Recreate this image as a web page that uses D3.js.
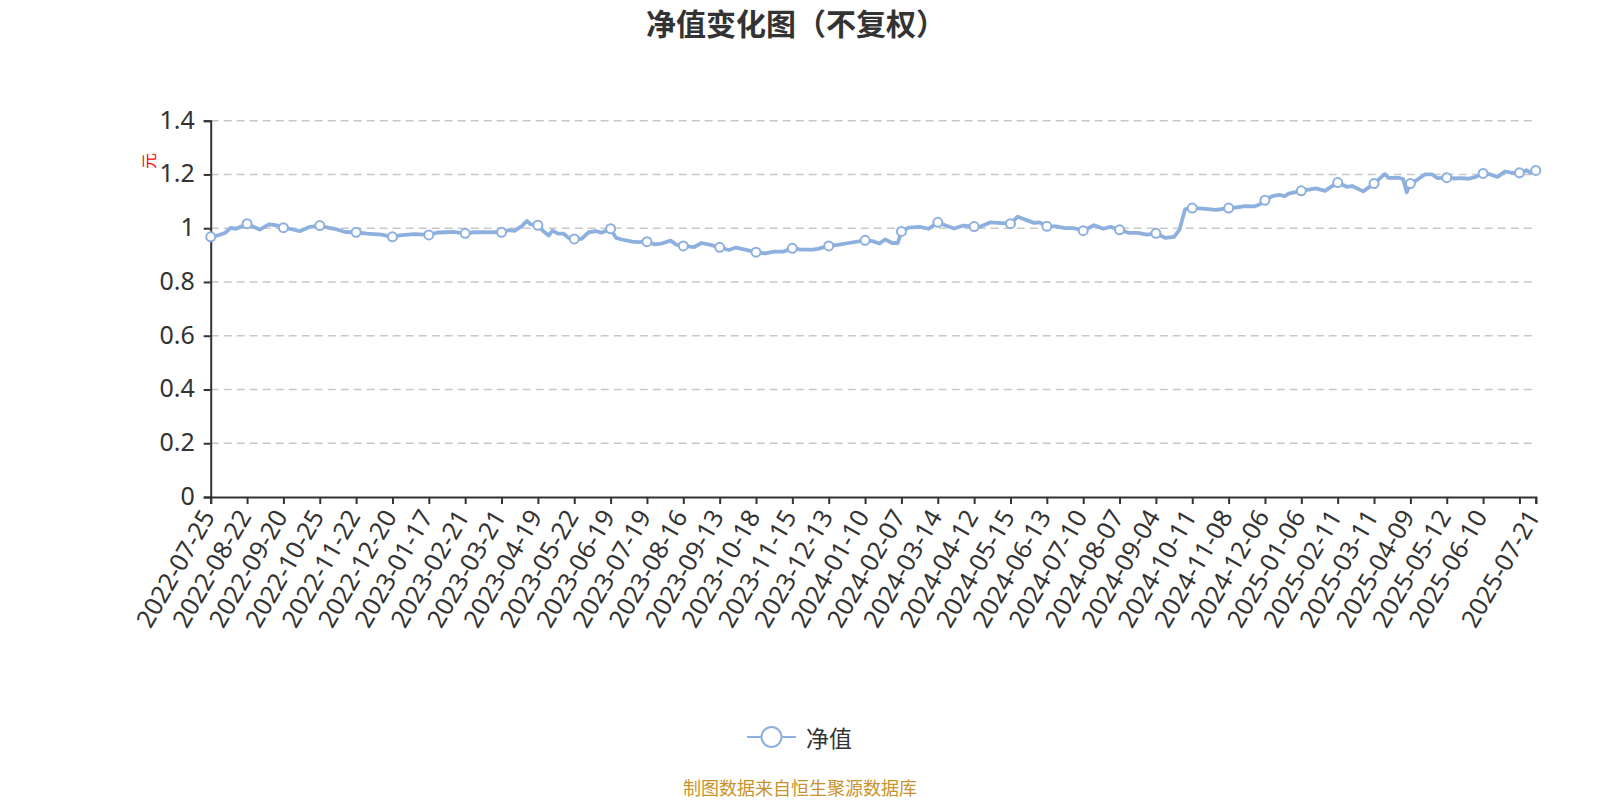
<!DOCTYPE html>
<html>
<head>
<meta charset="utf-8">
<script src="https://cdn.jsdelivr.net/npm/d3@7"></script>
<style>
  html, body { margin: 0; padding: 0; background: #fff; }
  svg { display: block; font-family: "Noto Sans", "Open Sans", "Noto Sans CJK SC", sans-serif; }
</style>
</head>
<body>
<svg id="chart" width="1600" height="800"></svg>
<script>
// ---- data ----
const title = "净值变化图（不复权）";
const seriesName = "净值";
const unitLabel = "元";
const footnote = "制图数据来自恒生聚源数据库";

// category index (trading day) of each axis tick, and its label
const tickIndex = [0,20,40,60,80,100,120,140,160,180,200,220,240,260,280,300,320,340,360,380,400,420,440,460,480,500,520,540,560,580,600,620,640,660,680,700,720,729];
const tickLabels = ["2022-07-25","2022-08-22","2022-09-20","2022-10-25","2022-11-22","2022-12-20",
  "2023-01-17","2023-02-21","2023-03-21","2023-04-19","2023-05-22","2023-06-19","2023-07-19",
  "2023-08-16","2023-09-13","2023-10-18","2023-11-15","2023-12-13","2024-01-10","2024-02-07",
  "2024-03-14","2024-04-12","2024-05-15","2024-06-13","2024-07-10","2024-08-07","2024-09-04",
  "2024-10-11","2024-11-08","2024-12-06","2025-01-06","2025-02-11","2025-03-11","2025-04-09",
  "2025-05-12","2025-06-10","","2025-07-21"];
const lastIndex = 729;

// sampled NAV readings: trading-day index and value
const navIndex = [0,4,8,11,14,17,20,23,27,32,36,40,44,49,54,60,65,68,74,80,86,94,100,105,112,120,125,133,140,145,153,160,164,167,171,174,176,180,183,186,188,191,194,197,200,204,208,212,215,220,223,226,232,235,240,244,248,253,256,260,266,270,275,280,285,289,294,300,305,310,315,320,325,331,334,340,345,351,360,364,368,371,375,378,380,384,390,395,400,404,409,414,420,424,429,433,440,444,448,453,456,460,465,470,475,480,486,491,495,500,505,510,515,520,525,530,533,536,540,546,553,560,565,569,574,577,580,584,588,591,593,600,604,608,613,620,625,628,634,640,646,648,654,656,658,660,664,668,672,675,680,684,688,692,696,700,704,708,712,716,720,724,726,729];
const navValue = [0.968,0.973,0.983,1.001,0.998,1.007,1.017,1.007,0.995,1.014,1.011,1.002,0.997,0.989,1.004,1.010,1.001,0.998,0.986,0.985,0.980,0.976,0.968,0.974,0.978,0.975,0.984,0.986,0.981,0.985,0.985,0.985,0.993,0.990,1.007,1.027,1.014,1.011,0.989,0.973,0.991,0.980,0.980,0.964,0.960,0.960,0.985,0.989,0.983,0.998,0.964,0.958,0.950,0.948,0.950,0.940,0.943,0.954,0.939,0.934,0.930,0.945,0.938,0.929,0.919,0.928,0.920,0.911,0.906,0.913,0.913,0.925,0.920,0.920,0.923,0.934,0.938,0.945,0.955,0.952,0.943,0.958,0.945,0.945,0.988,1.002,1.005,0.998,1.022,1.011,0.999,1.010,1.006,1.007,1.022,1.020,1.017,1.043,1.032,1.020,1.022,1.007,1.007,1.000,1.000,0.991,1.011,0.998,1.005,0.994,0.983,0.983,0.976,0.981,0.964,0.968,0.995,1.070,1.075,1.073,1.068,1.075,1.078,1.082,1.081,1.088,1.104,1.119,1.124,1.119,1.129,1.139,1.144,1.148,1.139,1.170,1.154,1.157,1.137,1.166,1.202,1.187,1.187,1.183,1.134,1.166,1.181,1.200,1.200,1.186,1.188,1.185,1.186,1.184,1.191,1.204,1.200,1.191,1.211,1.206,1.206,1.216,1.206,1.215];

const yTicks = [0, 0.2, 0.4, 0.6, 0.8, 1, 1.2, 1.4];

// ---- drawing ----
const svg = d3.select("#chart");
const lineColor = "#8eb0de";
const textColor = "#333";

const x = d3.scaleLinear().domain([0, lastIndex]).range([210.7, 1535.8]);
const y = d3.scaleLinear().domain([0, 1.4]).range([497, 120.7]);

// title
svg.append("text")
  .attr("x", 796).attr("y", 35)
  .attr("text-anchor", "middle")
  .attr("font-size", 30).attr("font-weight", "bold")
  .attr("fill", textColor)
  .style("font-family", "'Noto Sans CJK SC', sans-serif")
  .text(title);

// grid lines
svg.append("g").selectAll("line")
  .data(yTicks.filter(d => d > 0))
  .join("line")
  .attr("x1", x(0)).attr("x2", x(lastIndex))
  .attr("y1", d => y(d)).attr("y2", d => y(d))
  .attr("stroke", "#c8c8c8").attr("stroke-width", 1.6)
  .attr("stroke-dasharray", "8,5");

// y axis
const yAxis = d3.axisLeft(y).tickValues(yTicks).tickSize(7).tickPadding(9)
  .tickFormat(d => String(+d.toFixed(1)));
const gy = svg.append("g").attr("transform", `translate(${x(0)},0)`).call(yAxis);
gy.select(".domain").attr("stroke", textColor).attr("stroke-width", 2);
gy.selectAll(".tick line").attr("stroke", textColor).attr("stroke-width", 2);
gy.selectAll(".tick text").attr("fill", textColor).attr("font-size", 25)
  .attr("dy", "0.3em").style("font-family", "'Noto Sans', sans-serif");

// x axis
const labelOf = new Map(tickIndex.map((t, i) => [t, tickLabels[i]]));
const xAxis = d3.axisBottom(x).tickValues(tickIndex).tickSize(7).tickPadding(0)
  .tickFormat(d => labelOf.get(d));
const gx = svg.append("g").attr("transform", `translate(0,${y(0)})`).call(xAxis);
gx.select(".domain").attr("stroke", textColor).attr("stroke-width", 2);
gx.selectAll(".tick line").attr("stroke", textColor).attr("stroke-width", 2);
gx.selectAll(".tick text")
  .attr("fill", textColor).attr("font-size", 25)
  .style("font-family", "'Noto Sans', sans-serif")
  .attr("text-anchor", "end")
  .attr("dy", "0.35em")
  .attr("transform", "translate(-3,15) rotate(-60)")
  .attr("y", 0);

// unit label
svg.append("text")
  .attr("transform", `translate(148,161) rotate(-90)`)
  .attr("text-anchor", "middle").attr("dominant-baseline", "central")
  .attr("font-size", 16).attr("fill", "#ff0000")
  .style("font-family", "'Noto Sans CJK SC', sans-serif")
  .text(unitLabel);

// line
const pts = navIndex.map((t, i) => ({ t, v: navValue[i] }));
const line = d3.line().x(d => x(d.t)).y(d => y(d.v));
svg.append("path").datum(pts)
  .attr("d", line)
  .attr("fill", "none").attr("stroke", lineColor)
  .attr("stroke-width", 3.8).attr("stroke-linejoin", "round");

// markers at tick positions
const tickSet = new Set(tickIndex);
svg.append("g").selectAll("circle")
  .data(pts.filter(d => tickSet.has(d.t)))
  .join("circle")
  .attr("cx", d => x(d.t)).attr("cy", d => y(d.v)).attr("r", 4.5)
  .attr("fill", "#fff").attr("stroke", lineColor).attr("stroke-width", 2);

// legend
const lg = svg.append("g");
lg.append("line").attr("x1", 747).attr("x2", 796).attr("y1", 737).attr("y2", 737)
  .attr("stroke", lineColor).attr("stroke-width", 2);
lg.append("circle").attr("cx", 771.5).attr("cy", 737).attr("r", 10)
  .attr("fill", "#fff").attr("stroke", lineColor).attr("stroke-width", 2);
lg.append("text").attr("x", 806).attr("y", 737)
  .attr("dominant-baseline", "central")
  .attr("font-size", 23).attr("fill", textColor)
  .style("font-family", "'Noto Sans CJK SC', sans-serif")
  .text(seriesName);

// footnote
svg.append("text")
  .attr("x", 800).attr("y", 787)
  .attr("text-anchor", "middle").attr("dominant-baseline", "central")
  .attr("font-size", 18).attr("fill", "#c8932b")
  .style("font-family", "'Noto Sans CJK SC', sans-serif")
  .text(footnote);
</script>
</body>
</html>
